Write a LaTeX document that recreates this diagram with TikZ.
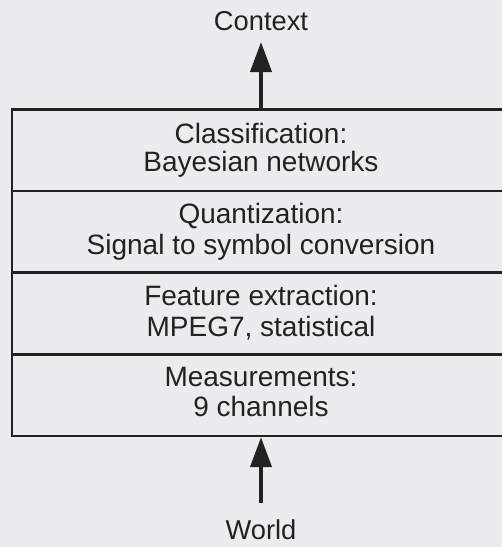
\documentclass[tikz,border=0pt]{standalone}
\usepackage{fontspec}
\setmainfont{Liberation Sans}
\usetikzlibrary{arrows.meta}
\definecolor{paper}{HTML}{ECECEE}
\definecolor{ink}{HTML}{222222}
\begin{document}
\begin{tikzpicture}[
    x=1pt, y=-1pt,
    every node/.style={text=ink},
    % #1 = line spacing of the two text lines, in pt
    layer/.style={draw=ink, line width=2.5pt, rectangle, align=center,
      font=\fontsize{28}{#1}\selectfont,
      minimum width=498pt, minimum height=81.6pt, inner sep=0pt,
      execute at begin node={\rule{0pt}{\dimexpr56pt-#1pt\relax}},
      execute at end node={\rule[-6pt]{0pt}{6pt}}},
    layer/.default=30,
    endpoint/.style={font=\fontsize{27.3}{32}\selectfont, inner xsep=0pt},
    flow/.style={draw=ink, line width=4pt,
      -{Triangle[length=30pt,width=21pt]}}
  ]
  \useasboundingbox (0,0) rectangle (502,547);
  \clip (0,0) rectangle (502,547);
  \fill[paper] (0,0) rectangle (502,547);

  % processing stack, top to bottom
  \node[layer=28.3] (cls)  at (261,150.3) {Classification:\\Bayesian networks};
  \node[layer=31.3] (qnt)  at (261,231.9) {Quantization:\\Signal to symbol conversion};
  \node[layer=31]   (fex)  at (261,313.5) {Feature extraction:\\MPEG7, statistical};
  \node[layer=30.3] (meas) at (261,395.1) {Measurements:\\9 channels};

  % input and output
  \node[endpoint, anchor=south, inner ysep=11pt] (ctx) at (261,42) {Context};
  \node[endpoint, anchor=north, inner ysep=2pt] (world) at (261,518) {World};

  \draw[flow] (cls.north) -- (ctx.south);
  \draw[flow, shorten <=15pt] (world.north) -- (meas.south);
\end{tikzpicture}
\end{document}
